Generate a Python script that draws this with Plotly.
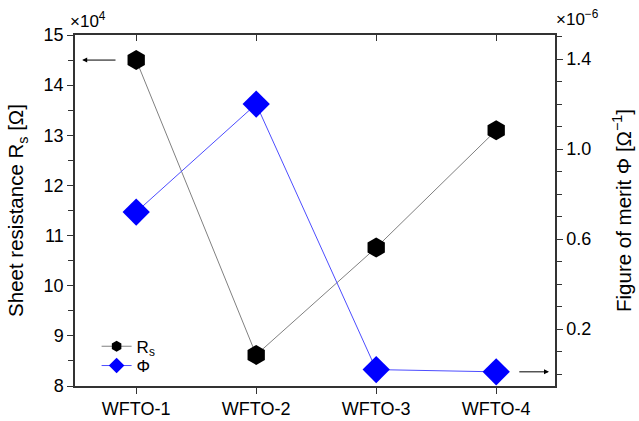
import plotly.graph_objects as go

categories = ["WFTO-1", "WFTO-2", "WFTO-3", "WFTO-4"]
rs_values = [14.5, 8.62, 10.76, 13.1]      # x10^4 Ohm
phi_values = [0.72, 1.20, 0.02, 0.01]      # x10^-6 Ohm^-1

FONT = "Liberation Sans, Arial, sans-serif"
xpos = list(range(len(categories)))
RS_LINE, RS_MARK = "#808080", "black"
PHI_LINE, PHI_MARK = "#4d4dff", "#0000ff"

fig = go.Figure()
fig.add_trace(go.Scatter(
    x=xpos, y=rs_values, name="R<sub>s</sub>", mode="lines+markers",
    line=dict(color=RS_LINE, width=1),
    marker=dict(symbol="hexagon", size=20, color=RS_MARK),
    yaxis="y", xaxis="x", showlegend=False))
fig.add_trace(go.Scatter(
    x=xpos, y=phi_values, name="Φ", mode="lines+markers",
    line=dict(color=PHI_LINE, width=1),
    marker=dict(symbol="diamond", size=21, color=PHI_MARK),
    yaxis="y2", xaxis="x", showlegend=False))

# legend-only entries (smaller symbols as in the reference legend)
fig.add_trace(go.Scatter(
    x=[None], y=[None], name="R<sub>s</sub>", mode="lines+markers",
    line=dict(color=RS_LINE, width=1),
    marker=dict(symbol="hexagon", size=11, color=RS_MARK), legend="legend"))
fig.add_trace(go.Scatter(
    x=[None], y=[None], name="Φ", mode="lines+markers",
    line=dict(color=PHI_LINE, width=1),
    marker=dict(symbol="diamond", size=12, color=PHI_MARK), legend="legend2"))

axis_common = dict(showline=True, linecolor="#333", linewidth=1.5,
                   showgrid=False, zeroline=False, tickcolor="#333",
                   automargin=False,
                   tickfont=dict(family=FONT, size=18, color="black"))

leg_common = dict(xanchor="left", yanchor="middle", bgcolor="rgba(0,0,0,0)",
                  font=dict(family=FONT, size=17), itemwidth=30)

fig.update_layout(
    width=639, height=421,
    margin=dict(l=75, r=84, t=35, b=35),
    plot_bgcolor="white", paper_bgcolor="white",
    font=dict(family=FONT, color="black"),
    showlegend=True,
    legend=dict(x=0.045, y=0.112, **leg_common),
    legend2=dict(x=0.045, y=0.057, **leg_common),
    xaxis=dict(range=[-0.51, 3.49], tickvals=xpos, ticktext=categories,
               ticks="outside", ticklen=6, **axis_common),
    xaxis2=dict(range=[-0.51, 3.49], overlaying="x", side="top",
                tickvals=xpos, showticklabels=False, ticks="inside",
                ticklen=6, matches="x", **axis_common),
    yaxis=dict(range=[8, 15], tick0=8, dtick=1, ticks="outside", ticklen=6,
               minor=dict(ticks="outside", ticklen=5, dtick=0.5, tickcolor="#333"),
               title=dict(text="Sheet resistance R<sub>s</sub> [Ω]",
                          font=dict(family=FONT, size=20.5), standoff=14),
               **axis_common),
    yaxis2=dict(range=[-0.053, 1.507], overlaying="y", side="right",
                tick0=0.2, dtick=0.4, tickformat=".1f", ticks="outside", ticklen=6,
                minor=dict(ticks="outside", ticklen=5, dtick=0.1, tick0=0, tickcolor="#333"),
                title=dict(text="Figure of merit Φ [Ω<sup>−1</sup>]",
                           font=dict(family=FONT, size=20.5), standoff=26),
                **axis_common),
)

# dummy trace to show top axis
fig.add_trace(go.Scatter(x=[None], y=[None], xaxis="x2", yaxis="y", showlegend=False))

fig.add_annotation(text="×10<sup>4</sup>", xref="paper", yref="paper", x=-0.015, y=1.0,
                   xanchor="left", yanchor="bottom", showarrow=False, yshift=2,
                   font=dict(family=FONT, size=17))
fig.add_annotation(text="×10<sup>−6</sup>", xref="paper", yref="paper", x=1.0, y=1.0,
                   xanchor="center", yanchor="bottom", showarrow=False, yshift=4, xshift=22,
                   font=dict(family=FONT, size=17))

# arrows indicating axes
fig.add_annotation(x=-0.45, y=rs_values[0], ax=-0.16, ay=rs_values[0], xref="x", yref="y",
                   axref="x", ayref="y", showarrow=True, arrowhead=2, arrowsize=1,
                   arrowwidth=1, arrowcolor="black", text="")
fig.add_annotation(x=3.44, y=phi_values[3], ax=3.18, ay=phi_values[3], xref="x", yref="y2",
                   axref="x", ayref="y2", showarrow=True, arrowhead=2, arrowsize=1,
                   arrowwidth=1, arrowcolor="black", text="")

fig.write_html("out.html")
